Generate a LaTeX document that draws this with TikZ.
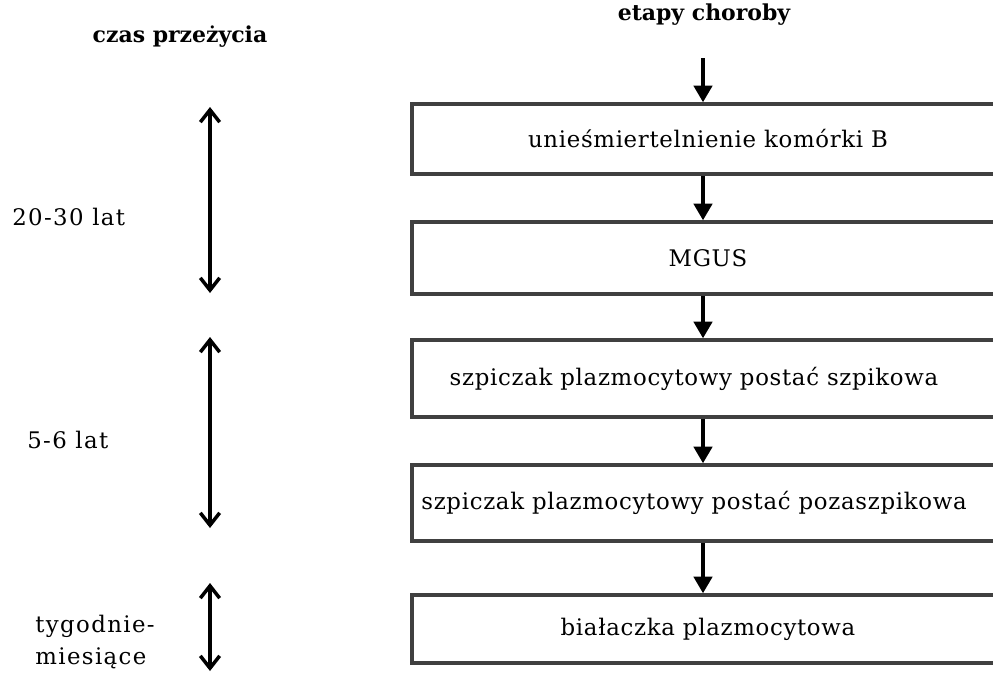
\documentclass[tikz,border=0pt]{standalone}
\usepackage{fontspec}
\setmainfont{DejaVu Serif}
\newfontfamily\spacedfont[LetterSpace=3]{DejaVu Serif}
\newfontfamily\widefont[LetterSpace=6]{DejaVu Serif}
\usetikzlibrary{arrows.meta,positioning}
\definecolor{boxgray}{HTML}{404040}
\tikzset{
  stagebox/.style={draw=boxgray,line width=2pt,minimum width=11.84cm,inner sep=0pt,font=\spacedfont\fontsize{13}{15}\selectfont},
  timelabel/.style={anchor=west,inner sep=0pt,align=left,font=\widefont\fontsize{13}{18}\selectfont},
  header/.style={inner sep=0pt,font=\bfseries\fontsize{12.5}{15}\selectfont},
  nextstage/.style={line width=2pt,-{Triangle[length=9.5pt,width=10.5pt]}},
  span/.style={line width=2pt,{Straight Barb[length=7pt,width=11pt]}-{Straight Barb[length=7pt,width=11pt]}}
}

\begin{document}
\begin{tikzpicture}[x=0.02cm,y=-0.02cm]
\useasboundingbox (0,0) rectangle (993,673);
\clip (0,0) rectangle (993,673);

% naglowki
\node[header] (hleft) at (180,37) {czas przeżycia};
\node[header] (hright) at (704,15) {etapy choroby};

% etapy choroby
\node[stagebox,minimum height=1.4cm] (stage1) at (708,139) {unieśmiertelnienie komórki B};
\node[stagebox,minimum height=1.44cm] (stage2) at (708,258) {MGUS};
\node[stagebox,minimum height=1.54cm] (stage3) at (708,378.5) {\hspace*{-0.56cm}szpiczak plazmocytowy postać szpikowa};
\node[stagebox,minimum height=1.52cm] (stage4) at (708,503) {\hspace*{-0.56cm}szpiczak plazmocytowy postać pozaszpikowa};
\node[stagebox,minimum height=1.36cm] (stage5) at (708,629) {białaczka plazmocytowa};

\coordinate (start) at (703,58);
\draw[nextstage] (start) -- (start |- stage1.north);
\foreach \a/\b in {stage1/stage2,stage2/stage3,stage3/stage4,stage4/stage5}
  \draw[nextstage] (start |- \a.south) -- (start |- \b.north);

% czas przezycia
\node[timelabel] (time1) at (12,217) {20-30 lat};
\node[timelabel] (time2) at (27,440) {5-6 lat};
\node[timelabel] (time3) at (35,642) {tygodnie-\\miesiące};

\coordinate (t1a) at (210,107);
\coordinate (t1b) at (210,293);
\coordinate (t2a) at (210,337);
\coordinate (t2b) at (210,528);
\coordinate (t3a) at (210,583);
\coordinate (t3b) at (210,671);
\draw[span] (t1a) -- (t1b);
\draw[span] (t2a) -- (t2b);
\draw[span] (t3a) -- (t3b);
\end{tikzpicture}
\end{document}
